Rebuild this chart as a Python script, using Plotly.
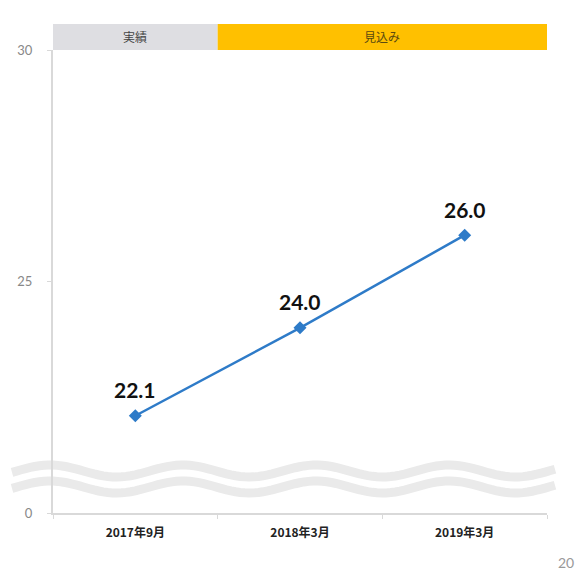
import numpy as np
import plotly.graph_objects as go

# Data
periods = ["2017年9月", "2018年3月", "2019年3月"]
values = [22.1, 24.0, 26.0]
tick_vals = [20, 25, 30]
tick_text = ["0", "25", "30"]
phase_labels = ["実績", "見込み"]

W, H = 586, 572
ML, MR, MT, MB = 53, 39, 50, 59
PW, PH = W - ML - MR, H - MT - MB

LINE_BLUE = "#2E7BC8"
AXIS_GRAY = "#D9D9D9"


def px_to_paper(x, y):
    return (x - ML) / PW, (H - MB - y) / PH


def wave_path(y_center, amp=6.0, period=133.0, x0=12, x1=555, x_peak=50):
    xs = np.linspace(x0, x1, 120)
    ys = y_center - amp * np.cos(2 * np.pi * (xs - x_peak) / period)
    pts = [px_to_paper(x, y) for x, y in zip(xs, ys)]
    return "M " + " L ".join(f"{a:.5f},{b:.5f}" for a, b in pts)


fig = go.Figure()
fig.add_trace(go.Scatter(
    x=periods, y=values, mode="lines+markers",
    line=dict(color=LINE_BLUE, width=2.5),
    marker=dict(symbol="diamond", size=10, color=LINE_BLUE),
    hoverinfo="skip", showlegend=False,
))

shapes = []
# broken-axis wave bands
for yc in (471, 487):
    shapes.append(dict(type="path", xref="paper", yref="paper",
                       path=wave_path(yc), line=dict(color="#EAEAEA", width=9),
                       layer="below"))

# phase header bars
hdr_bottom = 1.0
hdr_top = 1.0 + 26 / PH
shapes.append(dict(type="rect", xref="paper", yref="paper", x0=0, x1=1 / 3,
                   y0=hdr_bottom, y1=hdr_top, fillcolor="#DEDEE2", line=dict(width=0)))
shapes.append(dict(type="rect", xref="paper", yref="paper", x0=1 / 3, x1=1,
                   y0=hdr_bottom, y1=hdr_top, fillcolor="#FFC000", line=dict(width=0)))

hdr_mid = (hdr_bottom + hdr_top) / 2
annotations = [
    dict(x=1 / 6, y=hdr_mid, xref="paper", yref="paper", xanchor="center",
         yanchor="middle", text=phase_labels[0], showarrow=False,
         font=dict(family="Noto Sans CJK JP", size=12, color="#444444")),
    dict(x=2 / 3, y=hdr_mid, xref="paper", yref="paper", xanchor="center",
         yanchor="middle", text=phase_labels[1], showarrow=False,
         font=dict(family="Noto Sans CJK JP", size=12, color="#5A4A10")),
]
# page number fragment in the lower-right corner
ax, ay = px_to_paper(556, 562)
annotations.append(dict(x=ax, y=ay, xref="paper", yref="paper", showarrow=False,
                        xanchor="left", yanchor="middle", text="20",
                        font=dict(family="Lato", size=14, color="#999999")))

# value labels above each point
for p, v in zip(periods, values):
    annotations.append(dict(x=p, y=v, xref="x", yref="y", text=f"{v:.1f}",
                            showarrow=False, yanchor="middle", yshift=26,
                            font=dict(family="Lato", size=21, color="#111111",
                                      weight="bold")))

fig.update_layout(
    width=W, height=H,
    margin=dict(l=ML, r=MR, t=MT, b=MB),
    paper_bgcolor="white", plot_bgcolor="white",
    shapes=shapes, annotations=annotations,
    xaxis=dict(
        type="category", range=[-0.5, 2.5], tickson="boundaries",
        showgrid=False, zeroline=False,
        showline=True, linecolor=AXIS_GRAY, linewidth=2,
        ticks="outside", ticklen=4, tickcolor=AXIS_GRAY, tickwidth=1,
        ticklabelstandoff=8,
        tickfont=dict(family="Noto Sans CJK JP", size=12, color="#222222", weight="bold"),
    ),
    yaxis=dict(
        range=[20, 30], tickvals=tick_vals, ticktext=tick_text,
        showgrid=False, zeroline=False,
        showline=True, linecolor=AXIS_GRAY, linewidth=2,
        ticks="outside", ticklen=4, tickcolor=AXIS_GRAY, tickwidth=1,
        ticklabelstandoff=12,
        tickfont=dict(family="Lato", size=13, color="#888888"),
    ),
)

fig.write_html("out.html")
